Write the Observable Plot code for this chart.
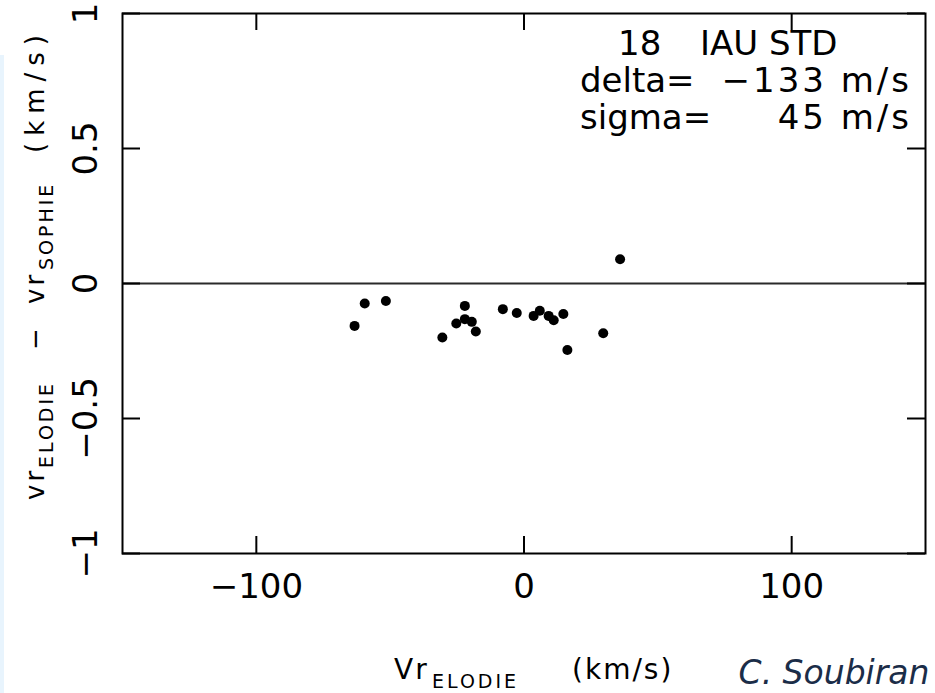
<!DOCTYPE html>
<html><head><meta charset="utf-8">
<script src="https://cdn.jsdelivr.net/npm/d3@7"></script>
<script src="https://cdn.jsdelivr.net/npm/@observablehq/plot@0.6"></script>
<style>
html,body{margin:0;padding:0;background:#fff;}
#strip{position:absolute;left:0;top:55px;width:4px;height:638px;background:#e8f4fd;z-index:2;}
svg text{white-space:pre;}
</style></head><body>
<div id="strip"></div>
<div id="chart"></div>
<script>
// ---- data ----
const vrElodie = [-63.3, -59.5, -51.6, -30.5, -25.3, -22.1, -22.1, -19.5, -18.0, -7.9, -2.7, 3.6, 5.9, 9.2, 11.1, 14.7, 16.2, 29.6, 35.9];
const vrDiff   = [-0.157, -0.074, -0.065, -0.200, -0.148, -0.083, -0.132, -0.142, -0.178, -0.095, -0.109, -0.120, -0.101, -0.120, -0.136, -0.113, -0.246, -0.184, 0.090];
const xTicks = [-100, 0, 100];
const xTickLabels = ["−100", "0", "100"];
const yTicks = [-1, -0.5, 0, 0.5, 1];
const yTickLabels = ["−1", "−0.5", "0", "0.5", "1"];
const statCount = "18";
const statStd = "IAU STD";
const statNames = ["delta=", "sigma="];
const statValues = ["−133 m/s", "45 m/s"];
const xLabelParts = [["Vr", false], ["ELODIE", true], ["(km/s)", false]];
const yLabelParts = [["vr", false], ["ELODIE", true], ["−", false], ["vr", false], ["SOPHIE", true], ["(km/s)", false]];
const credit = "C. Soubiran";

// ---- layout ----
const W = 935, H = 693;
const mL = 122, mR = 10, mT = 13, mB = 140;
const innerW = W - mL - mR, innerH = H - mT - mB;
const tickLen = 17;
const FONT = "DejaVu Sans, sans-serif";

const points = vrElodie.map((x, i) => ({x, y: vrDiff[i]}));

// function mark: free text with letter spacing
function freeText(str, {x, y, anchor = "start", size = 34, ls = 0}) {
  return (index, scales, values, dims) => {
    const t = d3.create("svg:text")
      .attr("x", x(dims)).attr("y", y(dims))
      .attr("text-anchor", anchor)
      .attr("font-family", FONT).attr("font-size", size)
      .attr("letter-spacing", ls).attr("fill", "black")
      .text(str);
    return t.node();
  };
}

// function mark: label with subscripts
function subLabel(parts, {ox, oy, rotate, offsets, mainSize, subSize, subShift, spacing}) {
  return (index, scales, values, dims) => {
    const t = d3.create("svg:text")
      .attr("transform", `translate(${ox(dims)},${oy(dims)}) rotate(${rotate})`)
      .attr("text-anchor", "start")
      .attr("font-family", FONT).attr("fill", "black");
    parts.forEach(([s, sub], i) => {
      t.append("tspan")
        .attr("x", offsets[i]).attr("y", sub ? subShift : 0)
        .attr("font-size", sub ? subSize : mainSize)
        .attr("letter-spacing", spacing[i])
        .text(s);
    });
    return t.node();
  };
}

const plot = Plot.plot({
  width: W, height: H,
  marginLeft: mL, marginRight: mR, marginTop: mT, marginBottom: mB,
  x: {domain: [-150, 150], axis: null},
  y: {domain: [-1, 1], axis: null},
  style: {fontFamily: FONT, background: "white", overflow: "visible"},
  marks: [
    Plot.ruleY([0], {stroke: "#2a2a2a", strokeWidth: 2}),
    Plot.frame({stroke: "black", strokeWidth: 2}),
    // inward ticks on all four sides
    Plot.ruleX(xTicks, {x: d => d, insetTop: innerH - tickLen, stroke: "black", strokeWidth: 2}),
    Plot.ruleX(xTicks, {x: d => d, insetBottom: innerH - tickLen, stroke: "black", strokeWidth: 2}),
    Plot.ruleY(yTicks, {y: d => d, insetRight: innerW - tickLen - 1, stroke: "black", strokeWidth: 2}),
    Plot.ruleY(yTicks, {y: d => d, insetLeft: innerW - tickLen - 1, stroke: "black", strokeWidth: 2}),
    // tick labels
    Plot.text(xTicks, {x: d => d, text: (d, i) => xTickLabels[i], frameAnchor: "bottom", lineAnchor: "top", dy: 20, fontSize: 34, fill: "black"}),
    Plot.text(yTicks, {y: d => d, text: (d, i) => yTickLabels[i], frameAnchor: "left", rotate: -90, lineAnchor: "bottom", textAnchor: "middle", dx: -26, fontSize: 34, fill: "black"}),
    // data points
    Plot.dot(points, {x: "x", y: "y", r: 5, fill: "black", stroke: null}),
    // statistics box text
    freeText(statCount, {x: d => d.marginLeft + 496, y: d => d.marginTop + 42}),
    freeText(statStd, {x: d => d.marginLeft + 578, y: d => d.marginTop + 42}),
    freeText(statNames[0], {x: d => d.marginLeft + 458, y: d => d.marginTop + 79}),
    freeText(statNames[1], {x: d => d.marginLeft + 458, y: d => d.marginTop + 116}),
    freeText(statValues[0], {x: d => d.width - d.marginRight - 13, y: d => d.marginTop + 79, anchor: "end", ls: 3}),
    freeText(statValues[1], {x: d => d.width - d.marginRight - 13, y: d => d.marginTop + 116, anchor: "end", ls: 3}),
    // axis titles
    subLabel(xLabelParts, {
      ox: d => d.marginLeft + 272, oy: d => d.height - 14, rotate: 0,
      offsets: [0, 38, 178], mainSize: 28, subSize: 19, subShift: 9, spacing: [2, 3, 2]
    }),
    subLabel(yLabelParts, {
      ox: d => 44, oy: d => d.height - d.marginBottom - 53, rotate: -90,
      offsets: [0, 32, 150, 196, 230, 347], mainSize: 26, subSize: 19, subShift: 9, spacing: [3, 3, 0, 3, 3, 7]
    }),
    // credit
    Plot.text([credit], {frameAnchor: "bottom-right", dx: 4, dy: 130, lineAnchor: "bottom", textAnchor: "end",
      fontStyle: "italic", fontSize: 33, fill: "#1b2d48", fontFamily: "DejaVu Sans"})
  ]
});
document.getElementById("chart").appendChild(plot);
</script>
</body></html>
